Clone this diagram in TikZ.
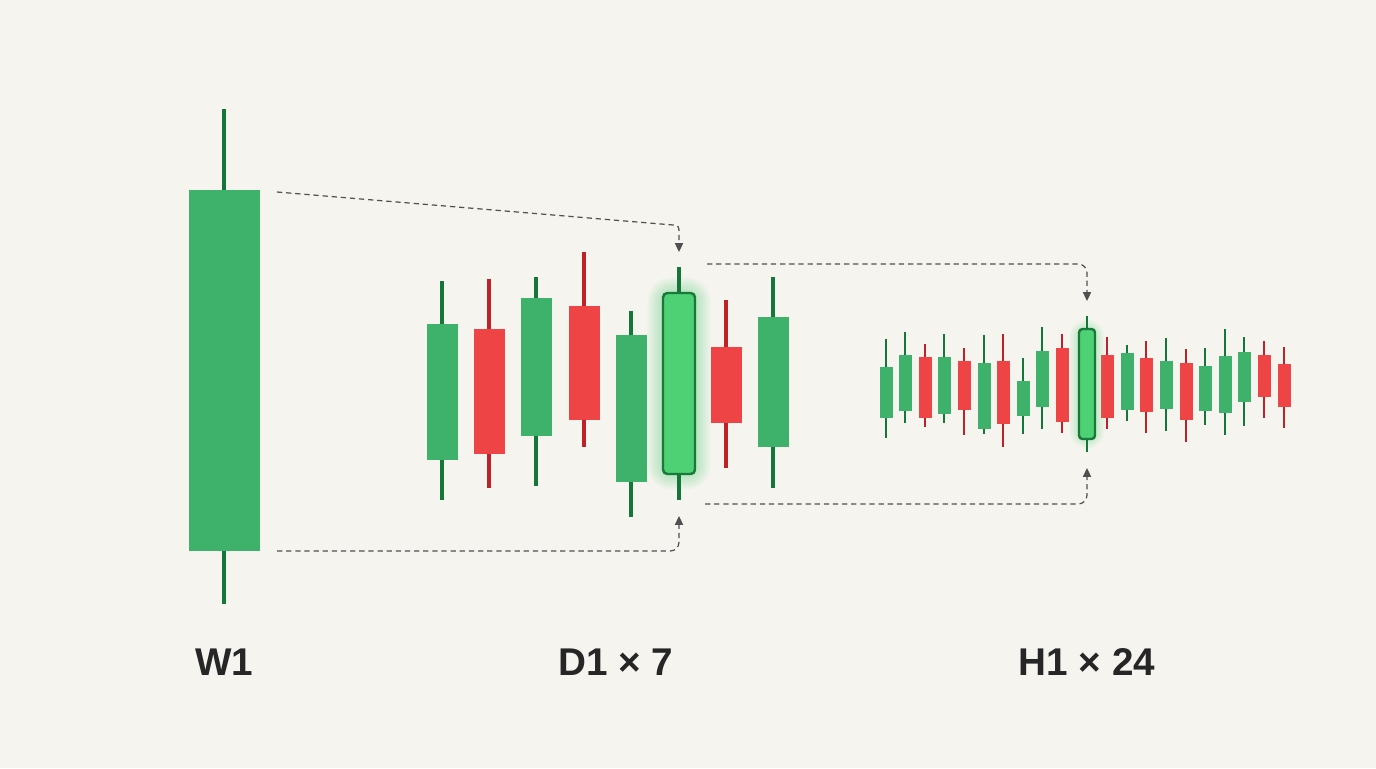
\documentclass[tikz,border=0pt]{standalone}
\usepackage{fontspec}
\setmainfont{Liberation Sans}
\usepackage{tikz}
\usetikzlibrary{arrows.meta, calc}

\definecolor{paper}{RGB}{245,244,239}
\definecolor{bullfill}{RGB}{62,178,106}
\definecolor{bullline}{RGB}{20,118,56}
\definecolor{bearfill}{RGB}{239,68,70}
\definecolor{bearline}{RGB}{190,34,40}
\definecolor{hlfill}{RGB}{78,208,117}
\definecolor{hlline}{RGB}{24,122,56}
\definecolor{glowgreen}{RGB}{80,210,120}
\definecolor{connline}{RGB}{80,80,80}
\definecolor{labeltext}{RGB}{38,38,38}

\begin{document}
\begin{tikzpicture}[
        x=0.02cm, y=-0.02cm,
        wick/.style={draw=#1line, line width=1.8pt},
        thinwick/.style={draw=#1line, line width=1.2pt},
        body/.style={fill=#1fill},
        hlbody/.style={fill=hlfill, draw=hlline, line width=1.4pt, rounded corners=2.5pt},
        glow/.style={draw=glowgreen, opacity=0.05, rounded corners=5pt},
        conn/.style={draw=connline, line width=0.7pt, dash pattern=on 3pt off 2.2pt,
                     -{Triangle[length=5pt, width=4.6pt]}},
        tflabel/.style={font=\fontsize{22}{26}\selectfont\bfseries, text=labeltext}
    ]
        \fill[paper] (0,0) rectangle (1376,768);

        % W1
        \draw[wick=bull] (224,109) -- (224,604);
        \fill[body=bull] (189,190) rectangle (260,551);
        \coordinate (w1hi) at (277,192);
        \coordinate (w1lo) at (277,551);

        % D1 x 7
        \foreach \x/\bt/\bb/\wt/\wb/\k in {442/324/460/281/500/bull, 489/329/454/279/488/bear,
                536/298/436/277/486/bull, 584/306/420/252/447/bear, 631/335/482/311/517/bull,
                726/347/423/300/468/bear, 773/317/447/277/488/bull} {
            \draw[wick=\k] (\x,\wt) -- (\x,\wb);
            \fill[body=\k] (\x-15.5,\bt) rectangle (\x+15.5,\bb);
        }
        \foreach \g in {1,...,8}
            \draw[glow, line width=\g*2.2pt] (663,293) rectangle (695,474);
        \draw[wick=bull] (679,267) -- (679,500);
        \draw[hlbody] (663,293) rectangle (695,474);
        \coordinate (d1hi) at (679,252);
        \coordinate (d1lo) at (679,516);
        \coordinate (d1out) at (707,264);
        \coordinate (d1outlo) at (705,504);

        % H1 x 24
        \foreach \x/\bt/\bb/\wt/\wb/\k in {886/367/418/339/438/bull, 905/355/411/332/423/bull,
                925/357/418/344/427/bear, 944/357/414/334/423/bull, 964/361/410/348/435/bear,
                984/363/429/335/434/bull, 1003/361/424/334/447/bear, 1023/381/416/358/434/bull,
                1042/351/407/327/429/bull, 1062/348/422/334/433/bear, 1107/355/418/337/429/bear,
                1127/353/410/345/421/bull, 1146/358/412/341/433/bear, 1166/361/409/338/431/bull,
                1186/363/420/349/442/bear, 1205/366/411/348/425/bull, 1225/356/413/329/435/bull,
                1244/352/402/337/426/bull, 1264/355/397/341/418/bear, 1284/364/407/347/428/bear} {
            \draw[thinwick=\k] (\x,\wt) -- (\x,\wb);
            \fill[body=\k] (\x-6.5,\bt) rectangle (\x+6.5,\bb);
        }
        \foreach \g in {1,...,6}
            \draw[glow, line width=\g*1.8pt] (1079,329) rectangle (1095,439);
        \draw[thinwick=bull] (1087,316) -- (1087,452);
        \draw[hlbody, rounded corners=2pt] (1079,329) rectangle (1095,439);
        \coordinate (h1hi) at (1087,301);
        \coordinate (h1lo) at (1087,468);

        % connectors
        \draw[conn] (w1hi) -- ($(d1hi)+(-6,-27)$) .. controls ($(d1hi)+(0,-26)$) .. ($(d1hi)+(0,-18)$) -- (d1hi);
        \draw[conn, rounded corners=5pt] (w1lo) -| (d1lo);
        \draw[conn, rounded corners=5pt] (d1out) -| (h1hi);
        \draw[conn, rounded corners=5pt] (d1outlo) -| (h1lo);

        % labels
        \node[tflabel] (w1lab) at (224,662) {W1};
        \node[tflabel] (d1lab) at (616,662) {D1 × 7};
        \node[tflabel] (h1lab) at (1087,662) {H1 × 24};
    \end{tikzpicture}
\end{document}
